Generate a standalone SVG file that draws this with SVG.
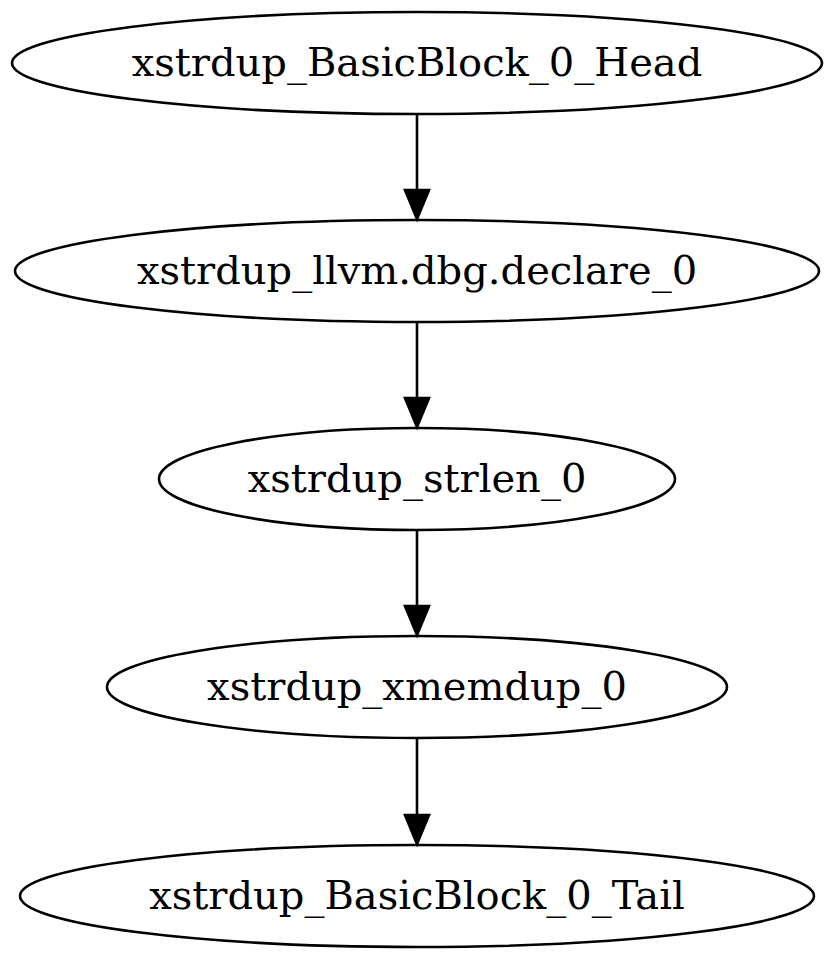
<svg xmlns="http://www.w3.org/2000/svg" width="835" height="960" viewBox="0 0 835 960">
<style>
.n ellipse{fill:none;stroke:#000;stroke-width:2.6}
.n text{font-family:"DejaVu Serif",serif;font-size:40px;text-anchor:middle;fill:#000}
.e line{stroke:#000;stroke-width:2.6}
.e polygon{fill:#000;stroke:#000;stroke-width:2.6}
</style>
<rect width="835" height="960" fill="#fff"/>
<g id="edges" class="e">
<line x1="417" y1="115" x2="417" y2="190"/><polygon points="405,190 429,190 417,219"/>
<line x1="417" y1="323" x2="417" y2="398"/><polygon points="405,398 429,398 417,427"/>
<line x1="417" y1="531" x2="417" y2="606"/><polygon points="405,606 429,606 417,635"/>
<line x1="417" y1="739" x2="417" y2="815"/><polygon points="405,815 429,815 417,844"/>
</g>
<g id="head" class="n"><ellipse cx="417" cy="63" rx="405" ry="51"/><text x="417" y="76">xstrdup_BasicBlock_0_Head</text></g>
<g id="declare" class="n"><ellipse cx="417" cy="271" rx="402" ry="51"/><text x="417" y="284">xstrdup_llvm.dbg.declare_0</text></g>
<g id="strlen" class="n"><ellipse cx="417" cy="479" rx="258" ry="51"/><text x="417" y="492">xstrdup_strlen_0</text></g>
<g id="xmemdup" class="n"><ellipse cx="417" cy="687" rx="310" ry="51"/><text x="417" y="700">xstrdup_xmemdup_0</text></g>
<g id="tail" class="n"><ellipse cx="417" cy="896" rx="397" ry="51"/><text x="417" y="909">xstrdup_BasicBlock_0_Tail</text></g>
</svg>
